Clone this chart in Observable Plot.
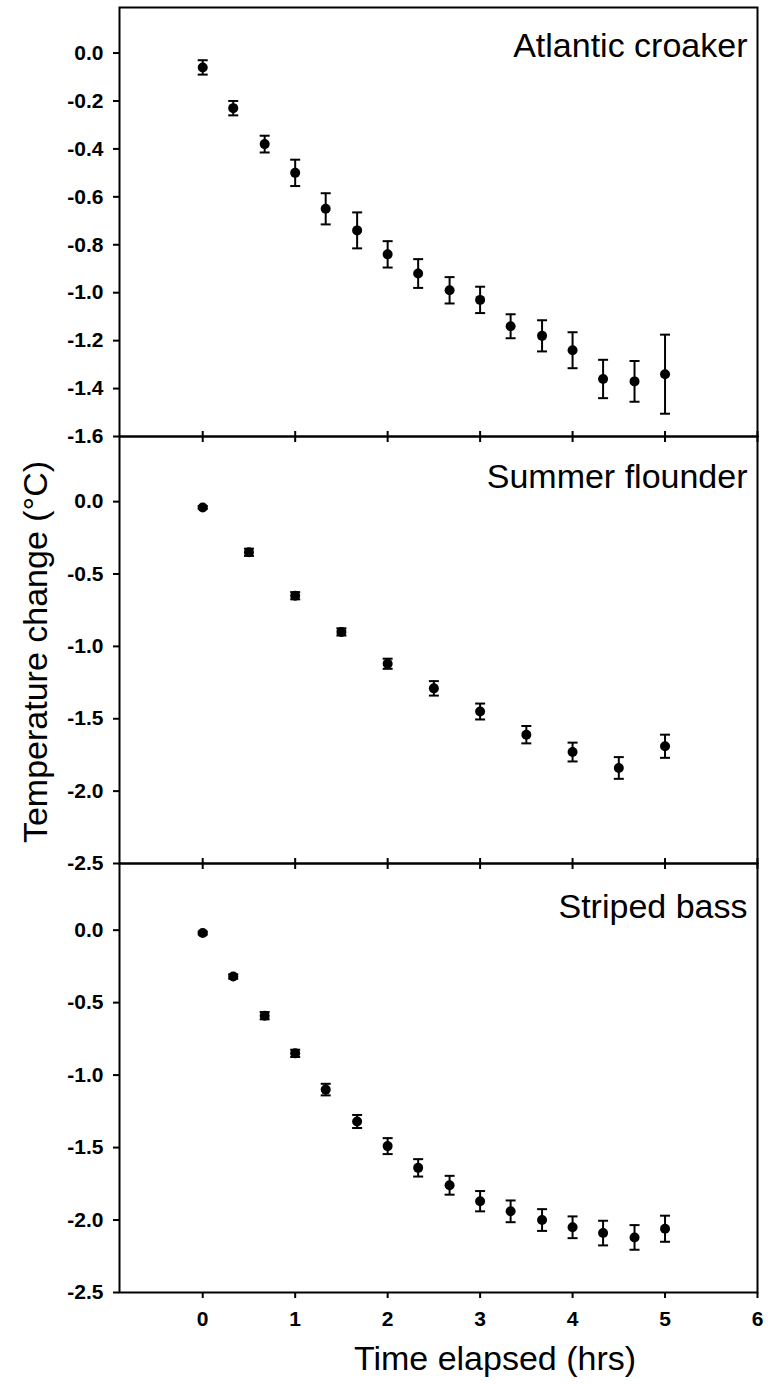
<!DOCTYPE html>
<html>
<head>
<meta charset="utf-8">
<script src="https://cdn.jsdelivr.net/npm/d3@7"></script>
<script src="https://cdn.jsdelivr.net/npm/@observablehq/plot@0.6"></script>
<style>
  body { margin: 0; background: #fff; }
  #wrap { position: relative; width: 768px; height: 1384px; font-family: "Liberation Sans", Arial, sans-serif; }
  #wrap > svg { position: absolute; left: 0; }
</style>
</head>
<body>
<div id="wrap"></div>
<script>
// ---------- data ----------
const panelNames = ["Atlantic croaker", "Summer flounder", "Striped bass"];

const croakerTime = [0, 0.33, 0.67, 1, 1.33, 1.67, 2, 2.33, 2.67, 3, 3.33, 3.67, 4, 4.33, 4.67, 5];
const croakerMean = [-0.06, -0.23, -0.38, -0.50, -0.65, -0.74, -0.84, -0.92, -0.99, -1.03, -1.14, -1.18, -1.24, -1.36, -1.37, -1.34];
const croakerErr  = [0.03, 0.03, 0.035, 0.055, 0.065, 0.075, 0.055, 0.06, 0.055, 0.055, 0.05, 0.065, 0.075, 0.08, 0.085, 0.165];

const flounderTime = [0, 0.5, 1, 1.5, 2, 2.5, 3, 3.5, 4, 4.5, 5];
const flounderMean = [-0.04, -0.35, -0.65, -0.90, -1.12, -1.29, -1.45, -1.61, -1.73, -1.84, -1.69];
const flounderErr  = [0.01, 0.025, 0.025, 0.025, 0.035, 0.05, 0.055, 0.06, 0.065, 0.075, 0.08];

const bassTime = [0, 0.33, 0.67, 1, 1.33, 1.67, 2, 2.33, 2.67, 3, 3.33, 3.67, 4, 4.33, 4.67, 5];
const bassMean = [-0.02, -0.32, -0.59, -0.85, -1.10, -1.32, -1.49, -1.64, -1.76, -1.87, -1.94, -2.00, -2.05, -2.09, -2.12, -2.06];
const bassErr  = [0.01, 0.015, 0.025, 0.025, 0.04, 0.045, 0.055, 0.06, 0.065, 0.07, 0.075, 0.075, 0.075, 0.085, 0.085, 0.09];

const xTicks = [0, 1, 2, 3, 4, 5, 6];
const yTicksCroaker = [0, -0.2, -0.4, -0.6, -0.8, -1.0, -1.2, -1.4, -1.6];
const yTicksFlounder = [0, -0.5, -1.0, -1.5, -2.0, -2.5];
const yTicksBass = [0, -0.5, -1.0, -1.5, -2.0, -2.5];

const xTitle = "Time elapsed (hrs)";
const yTitle = "Temperature change (°C)";

// ---------- drawing ----------
const wrap = document.getElementById("wrap");
const fmtY = d => d3.format(".1f")(d).replace("\u2212", "-");
const capSymbol = { draw(ctx, size) { const w = Math.sqrt(size / Math.PI); ctx.moveTo(-w, 0); ctx.lineTo(w, 0); } };

function panel({name, time, mean, err, yDomain, yTicks, top, frameH, mt, mb, last, first, labelDy}) {
  const rows = time.map((t, i) => ({t, m: mean[i], e: err[i]}));
  const chart = Plot.plot({
    width: 768,
    height: mt + frameH + mb,
    marginLeft: 119,
    marginRight: 11,
    marginTop: mt,
    marginBottom: mb,
    x: {domain: [-0.9, 6], label: null},
    y: {domain: yDomain, label: null},
    style: {background: "transparent", overflow: "visible", fontFamily: "'Liberation Sans', Arial, sans-serif", fontSize: "21px", fontWeight: "bold", color: "black"},
    marks: [
      Plot.frame({stroke: "black", strokeWidth: 2}),
      Plot.axisY(yTicks, {anchor: "left", label: null, tickSize: 6, tickPadding: 10, strokeWidth: 2, tickFormat: fmtY}),
      Plot.axisX(xTicks, {anchor: "bottom", label: null, tickSize: 6, tickPadding: 13, strokeWidth: 2, tickFormat: last ? (d => String(d)) : (() => "")}),
      Plot.axisX(xTicks, {anchor: "top", label: null, tickSize: first ? 0 : 6, strokeWidth: 2, tickFormat: () => ""}),
      Plot.ruleX(rows, {x: "t", y1: d => d.m - d.e, y2: d => d.m + d.e, stroke: "black", strokeWidth: 2}),
      Plot.dot(rows, {x: "t", y: d => d.m + d.e, symbol: capSymbol, r: 5, fill: "none", stroke: "black", strokeWidth: 2}),
      Plot.dot(rows, {x: "t", y: d => d.m - d.e, symbol: capSymbol, r: 5, fill: "none", stroke: "black", strokeWidth: 2}),
      Plot.dot(rows, {x: "t", y: "m", r: 5, fill: "black", stroke: "none"}),
      Plot.text([name], {frameAnchor: "top-right", dx: -10, dy: labelDy, lineAnchor: "top", textAnchor: "end", fontSize: 34, fontWeight: "normal", fill: "black"})
    ]
  });
  chart.style.top = top + "px";
  wrap.appendChild(chart);
}

panel({name: panelNames[0], time: croakerTime, mean: croakerMean, err: croakerErr,
       yDomain: [-1.6, 0.19], yTicks: yTicksCroaker, top: 0, frameH: 429, mt: 7, mb: 8, last: false, first: true, labelDy: 25});
panel({name: panelNames[1], time: flounderTime, mean: flounderMean, err: flounderErr,
       yDomain: [-2.5, 0.45], yTicks: yTicksFlounder, top: 428, frameH: 427, mt: 8, mb: 8, last: false, first: false, labelDy: 27});
panel({name: panelNames[2], time: bassTime, mean: bassMean, err: bassErr,
       yDomain: [-2.5, 0.46], yTicks: yTicksBass, top: 855, frameH: 429, mt: 8, mb: 50, last: true, first: false, labelDy: 30});

// axis titles
const ns = "http://www.w3.org/2000/svg";
const svg = document.createElementNS(ns, "svg");
svg.setAttribute("width", 768);
svg.setAttribute("height", 1384);
svg.style.top = "0px";
svg.style.pointerEvents = "none";
svg.setAttribute("font-family", "'Liberation Sans', Arial, sans-serif");
const yt = document.createElementNS(ns, "text");
yt.setAttribute("transform", "translate(47,652) rotate(-90)");
yt.setAttribute("text-anchor", "middle");
yt.setAttribute("font-size", 34);
yt.textContent = yTitle;
svg.appendChild(yt);
const xt = document.createElementNS(ns, "text");
xt.setAttribute("x", 495);
xt.setAttribute("y", 1370);
xt.setAttribute("text-anchor", "middle");
xt.setAttribute("font-size", 34);
xt.textContent = xTitle;
svg.appendChild(xt);
wrap.appendChild(svg);
</script>
</body>
</html>
